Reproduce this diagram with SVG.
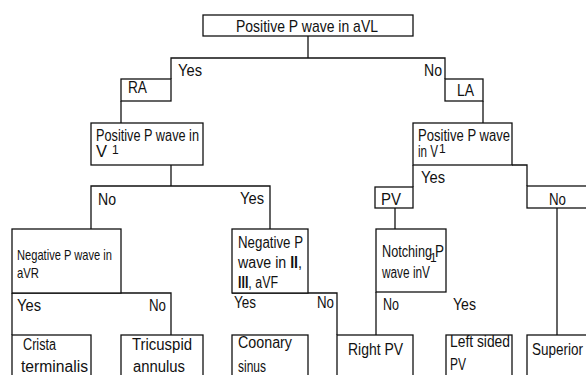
<svg xmlns="http://www.w3.org/2000/svg" width="586" height="375" viewBox="0 0 586 375">
<style>
rect{fill:#fff;stroke:#111;stroke-width:1.3}
line,polyline{fill:none;stroke:#111;stroke-width:1.3}
text{font-family:"Liberation Sans Narrow","Liberation Sans",Arial,sans-serif;font-size:16px;fill:#111}
.h{font-size:17px}
.s{font-size:15px}
.sup{font-size:12px}
.b{font-weight:bold}
</style>
<rect x="0" y="0" width="586" height="375" style="fill:#fff;stroke:none"/>
<g id="connectors">
<polyline points="308,36 308,58"/>
<polyline points="171,79 171,58 445,58 445,79"/>
<polyline points="121,101 121,123"/>
<polyline points="483,101 483,123"/>
<polyline points="171,165 171,186"/>
<polyline points="91,229 91,186 270,186 270,229"/>
<polyline points="413,165 413,187"/>
<polyline points="512,165 527,165 527,186"/>
<polyline points="395,208 395,229"/>
<polyline points="557,208 557,335"/>
<polyline points="12,293 12,335"/>
<polyline points="12,293 171,293 171,335"/>
<polyline points="232,293 337,293 337,335"/>
<polyline points="376,292 376,335"/>
</g>
<g id="n_top"><rect x="203" y="15" width="210" height="21"/><text class="h" x="236" y="32" textLength="142" lengthAdjust="spacingAndGlyphs">Positive P wave in aVL</text></g>
<g id="l_yes_top"><text class="h" x="178" y="76" textLength="24" lengthAdjust="spacingAndGlyphs">Yes</text></g>
<g id="l_no_top"><text class="h" x="424" y="76" textLength="18" lengthAdjust="spacingAndGlyphs">No</text></g>
<g id="n_ra"><rect x="121" y="79" width="50" height="22"/><text class="h" x="128" y="93" textLength="19" lengthAdjust="spacingAndGlyphs">RA</text></g>
<g id="n_la"><rect x="445" y="79" width="38" height="22"/><text class="h" x="457" y="96" textLength="17" lengthAdjust="spacingAndGlyphs">LA</text></g>
<g id="n_pv1_left"><rect x="91" y="123" width="112" height="42"/><text x="96" y="141" textLength="103" lengthAdjust="spacingAndGlyphs">Positive P wave in</text><text x="96" y="157" textLength="11" lengthAdjust="spacingAndGlyphs">V</text><text class="sup" x="112" y="154">1</text></g>
<g id="n_pv1_right"><rect x="413" y="123" width="99" height="42"/><text x="418" y="141" textLength="92" lengthAdjust="spacingAndGlyphs">Positive P wave</text><text x="418" y="157" textLength="20" lengthAdjust="spacingAndGlyphs">in V</text><text class="sup" x="439" y="153">1</text></g>
<g id="l_no_left"><text x="98" y="205" textLength="18" lengthAdjust="spacingAndGlyphs">No</text></g>
<g id="l_yes_left"><text x="240" y="204" textLength="24" lengthAdjust="spacingAndGlyphs">Yes</text></g>
<g id="l_yes_right"><text x="421" y="183" textLength="24" lengthAdjust="spacingAndGlyphs">Yes</text></g>
<g id="n_pv"><rect x="375" y="187" width="38" height="21"/><text x="381" y="205" textLength="20" lengthAdjust="spacingAndGlyphs">PV</text></g>
<g id="n_no_right"><rect x="527" y="186" width="80" height="22"/><text x="549" y="205" textLength="17" lengthAdjust="spacingAndGlyphs">No</text></g>
<g id="n_negavr"><rect x="12" y="229" width="109" height="64"/><text class="s" x="17" y="260" textLength="95" lengthAdjust="spacingAndGlyphs">Negative P wave in</text><text class="s" x="17" y="278" textLength="22" lengthAdjust="spacingAndGlyphs">aVR</text></g>
<g id="l_avr_yes"><text x="17" y="311" textLength="24" lengthAdjust="spacingAndGlyphs">Yes</text></g>
<g id="l_avr_no"><text x="149" y="311" textLength="17" lengthAdjust="spacingAndGlyphs">No</text></g>
<g id="n_negII"><rect x="232" y="229" width="76" height="64"/><text x="238" y="248" textLength="65" lengthAdjust="spacingAndGlyphs">Negative P</text><text x="238" y="268" textLength="64" lengthAdjust="spacingAndGlyphs">wave in <tspan class="b">II</tspan>,</text><text x="238" y="288" textLength="40" lengthAdjust="spacingAndGlyphs"><tspan class="b">III</tspan>, aVF</text></g>
<g id="l_II_yes"><text x="234" y="308" textLength="22" lengthAdjust="spacingAndGlyphs">Yes</text></g>
<g id="l_II_no"><text x="317" y="308" textLength="17" lengthAdjust="spacingAndGlyphs">No</text></g>
<g id="n_notch"><rect x="376" y="229" width="70" height="63"/><text x="382" y="257" textLength="50" lengthAdjust="spacingAndGlyphs">Notching</text><text class="sup" x="430" y="262">1</text><text x="435" y="257" textLength="9" lengthAdjust="spacingAndGlyphs">P</text><text x="382" y="278" textLength="48" lengthAdjust="spacingAndGlyphs">wave inV</text></g>
<g id="l_notch_no"><text x="383" y="310" textLength="16" lengthAdjust="spacingAndGlyphs">No</text></g>
<g id="l_notch_yes"><text x="453" y="310" textLength="23" lengthAdjust="spacingAndGlyphs">Yes</text></g>
<g id="n_crista"><rect x="12" y="335" width="79" height="60"/><text x="23" y="350" textLength="33" lengthAdjust="spacingAndGlyphs">Crista</text><text x="21" y="372" textLength="67" lengthAdjust="spacingAndGlyphs">terminalis</text></g>
<g id="n_tricuspid"><rect x="121" y="335" width="82" height="60"/><text x="132" y="350" textLength="60" lengthAdjust="spacingAndGlyphs">Tricuspid</text><text x="133" y="372" textLength="52" lengthAdjust="spacingAndGlyphs">annulus</text></g>
<g id="n_coronary"><rect x="232" y="335" width="76" height="60"/><text x="238" y="348" textLength="54" lengthAdjust="spacingAndGlyphs">Coonary</text><text x="238" y="372" textLength="28" lengthAdjust="spacingAndGlyphs">sinus</text></g>
<g id="n_rightpv"><rect x="337" y="335" width="76" height="60"/><text x="348" y="355" textLength="55" lengthAdjust="spacingAndGlyphs">Right PV</text></g>
<g id="n_leftpv"><rect x="446" y="335" width="66" height="60"/><text x="450" y="347" textLength="60" lengthAdjust="spacingAndGlyphs">Left sided</text><text x="450" y="370" textLength="16" lengthAdjust="spacingAndGlyphs">PV</text></g>
<g id="n_superior"><rect x="527" y="335" width="80" height="60"/><text x="532" y="355" textLength="51" lengthAdjust="spacingAndGlyphs">Superior</text></g>
</svg>
